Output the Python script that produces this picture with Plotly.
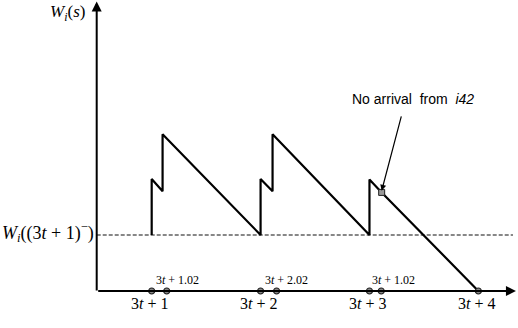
import plotly.graph_objects as go

# Data (x in units where 3t+1 -> 1, 3t+2 -> 2, ...; y in units where W_i((3t+1)^-) -> 1)
wave_x = [1, 1, 1.10, 1.10, 2.0, 2.0, 2.11, 2.11, 3.0, 3.0, 3.112, 4.0]
wave_y = [1, 2.0, 1.78, 2.8, 1.0, 2.0, 1.78, 2.8, 1.0, 1.99, 1.76, 0.0]
tick_x = [1, 1.138, 2, 2.147, 3, 3.108, 4]
major_labels = ["3<i>t</i> + 1", "3<i>t</i> + 2", "3<i>t</i> + 3", "3<i>t</i> + 4"]
major_pos = [1, 2, 3, 4]
minor_labels = ["3<i>t</i> + 1.02", "3<i>t</i> + 2.02", "3<i>t</i> + 1.02"]
minor_pos = [1.241, 2.242, 3.225]
base_level = 1.0
no_arrival = (3.112, 1.76)

SERIF = "Liberation Serif"
fig = go.Figure()

# dashed baseline
fig.add_trace(go.Scatter(x=[0.495, 4.318], y=[base_level, base_level], mode="lines",
                         line=dict(color="#111", width=1.2, dash="4px,2px"), hoverinfo="skip"))
# sawtooth
fig.add_trace(go.Scatter(x=wave_x, y=wave_y, mode="lines",
                         line=dict(color="black", width=2.2), hoverinfo="skip"))
# x-axis points
fig.add_trace(go.Scatter(x=tick_x, y=[0] * len(tick_x), mode="markers",
                         marker=dict(size=6, color="#888", line=dict(color="#222", width=1.2)),
                         hoverinfo="skip"))
# no arrival marker
fig.add_trace(go.Scatter(x=[no_arrival[0]], y=[no_arrival[1]], mode="markers",
                         marker=dict(size=6, symbol="square", color="#999",
                                     line=dict(color="#222", width=1)), hoverinfo="skip"))

ann = []
# axes with arrows
ann.append(dict(x=4.345, y=0, ax=0.495, ay=0, xref="x", yref="y", axref="x", ayref="y",
                text="", showarrow=True, arrowhead=2, arrowsize=1, arrowwidth=2, arrowcolor="black"))
ann.append(dict(x=0.495, y=5.17, ax=0.495, ay=-0.02, xref="x", yref="y", axref="x", ayref="y",
                text="", showarrow=True, arrowhead=2, arrowsize=1, arrowwidth=2, arrowcolor="black"))
# pointer arrow
ann.append(dict(x=no_arrival[0], y=no_arrival[1] + 0.03, ax=3.296, ay=3.143, xref="x", yref="y",
                axref="x", ayref="y", text="", showarrow=True, arrowhead=2, arrowsize=1,
                arrowwidth=1.2, arrowcolor="black"))
for lab, p in zip(major_labels, major_pos):
    ann.append(dict(x=p - 0.02, y=-0.232, text=lab, showarrow=False, xref="x", yref="y",
                    font=dict(family=SERIF, size=16, color="black")))
for lab, p in zip(minor_labels, minor_pos):
    ann.append(dict(x=p, y=0.196, text=lab, showarrow=False, xref="x", yref="y",
                    font=dict(family=SERIF, size=12, color="black")))
ann.append(dict(x=0.405, y=5.196, xanchor="right", yanchor="top",
                text="<i>W</i><sub><i>i</i></sub>(<i>s</i>)", showarrow=False,
                xref="x", yref="y", font=dict(family=SERIF, size=17, color="black")))
ann.append(dict(x=0.489, y=1.04, xanchor="right",
                text="<i>W</i><sub><i>i</i></sub>((3<i>t</i> + 1)<sup>−</sup>)", showarrow=False,
                xref="x", yref="y", font=dict(family=SERIF, size=18, color="black")))
ann.append(dict(x=3.40, y=3.42, text="No arrival  from  <i>i42</i>", showarrow=False,
                xref="x", yref="y", font=dict(family="Liberation Sans", size=14, color="black")))

fig.update_layout(
    width=518, height=328, margin=dict(l=0, r=0, t=0, b=0),
    paper_bgcolor="white", plot_bgcolor="white", showlegend=False,
    xaxis=dict(range=[-0.393, 4.364], visible=False, fixedrange=True),
    yaxis=dict(range=[-0.661, 5.196], visible=False, fixedrange=True),
    annotations=ann,
)
fig.write_html("out.html", config={"displayModeBar": False})
